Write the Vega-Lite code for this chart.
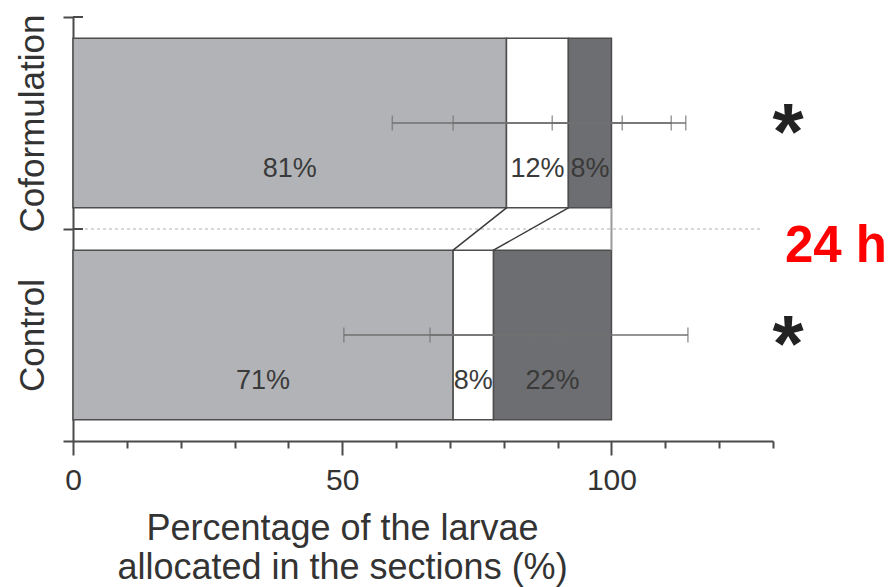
{
  "$schema": "https://vega.github.io/schema/vega-lite/v6.json",
  "width": 700,
  "height": 424,
  "autosize": {"type": "none"},
  "padding": {"left": 73, "top": 17, "right": 119, "bottom": 146},
  "background": "white",
  "config": {"view": {"stroke": null}, "font": "Liberation Sans", "scale": {"bandPaddingInner": 0, "bandPaddingOuter": 0}},
  "datasets": {
    "segments": [
      {"group": "Coformulation", "section": "Section 1", "start": 0, "end": 80.5, "mid": 40.25, "label": "81%", "lo": 59.3, "hi": 102.0},
      {"group": "Coformulation", "section": "Section 2", "start": 80.5, "end": 92, "mid": 86.25, "label": "12%", "lo": 70.6, "hi": 113.8},
      {"group": "Coformulation", "section": "Section 3", "start": 92, "end": 100, "mid": 96, "label": "8%", "lo": 89.0, "hi": 111.1},
      {"group": "Control", "section": "Section 1", "start": 0, "end": 70.6, "mid": 35.3, "label": "71%", "lo": 50.3, "hi": 90.6},
      {"group": "Control", "section": "Section 2", "start": 70.6, "end": 78.1, "mid": 74.35, "label": "8%", "lo": 66.3, "hi": 89.9},
      {"group": "Control", "section": "Section 3", "start": 78.1, "end": 100, "mid": 89.05, "label": "22%", "lo": 85.4, "hi": 114.2}
    ],
    "significance": [
      {"group": "Coformulation", "x": 132.8, "mark": "*"},
      {"group": "Control", "x": 132.8, "mark": "*"}
    ],
    "links": [
      {"top": 80.5, "bottom": 70.6},
      {"top": 92, "bottom": 78.1}
    ],
    "bounds": [{"b": 0}, {"b": 1}],
    "annot": [{"text": "24 h", "x": 141.7, "y": 1.156}]
  },
  "layer": [
    {
      "data": {"name": "segments"},
      "mark": {"type": "bar", "stroke": "#4d4d4d", "strokeWidth": 1.5, "height": {"band": 0.8}},
      "encoding": {
        "x": {
          "field": "start", "type": "quantitative",
          "scale": {"domain": [0, 130], "nice": false},
          "axis": {
            "values": [0, 10, 20, 30, 40, 50, 60, 70, 80, 90, 100, 110, 120, 130],
            "labelExpr": "datum.value % 50 === 0 ? datum.label : ''",
            "tickSize": {"condition": {"test": "datum.value % 50 === 0", "value": 14}, "value": 7},
            "tickWidth": 2, "tickColor": "#4a4a4a",
            "domainColor": "#4a4a4a", "domainWidth": 2,
            "labelFontSize": 30, "labelColor": "#333333", "labelPadding": 10,
            "labelBaseline": "top", "labelFlush": false, "labelOverlap": false,
            "grid": false,
            "title": ["Percentage of the larvae", "allocated in the sections (%)"],
            "titleFontSize": 36, "titleFontWeight": "normal", "titleColor": "#333333",
            "titleX": 269, "titleY": 70, "titleBaseline": "top", "titleAlign": "center",
            "titleLineHeight": 39
          }
        },
        "x2": {"field": "end"},
        "y": {
          "field": "group", "type": "nominal",
          "scale": {"type": "band", "domain": ["Coformulation", "Control"]},
          "axis": {
            "title": null, "tickBand": "extent", "tickSize": 10, "tickWidth": 2,
            "tickColor": "#4a4a4a", "domainColor": "#4a4a4a", "domainWidth": 2,
            "labelAngle": -90, "labelAlign": "center", "labelBaseline": "alphabetic",
            "labelFontSize": 35, "labelColor": "#333333", "labelPadding": 20, "labelLimit": 0, "grid": false
          }
        },
        "color": {
          "field": "section", "type": "nominal",
          "scale": {"domain": ["Section 1", "Section 2", "Section 3"], "range": ["#b2b3b7", "#ffffff", "#6d6e71"]},
          "legend": null
        }
      }
    },
    {
      "data": {"values": [{}]},
      "mark": {"type": "rule", "color": "#cccccc", "strokeWidth": 1.5, "strokeDash": [3, 3]},
      "encoding": {
        "x": {"datum": 0, "type": "quantitative"},
        "x2": {"datum": 128},
        "y": {"datum": 1, "type": "quantitative", "scale": {"domain": [0, 2], "reverse": true, "nice": false, "zero": false}, "axis": null}
      }
    },
    {
      "data": {"name": "links"},
      "mark": {"type": "rule", "color": "#3a3a3a", "strokeWidth": 1.5},
      "encoding": {
        "x": {"field": "top", "type": "quantitative"},
        "x2": {"field": "bottom"},
        "y": {"datum": 0.9, "type": "quantitative", "scale": {"domain": [0, 2], "reverse": true, "nice": false, "zero": false}, "axis": null},
        "y2": {"datum": 1.1}
      }
    },
    {
      "data": {"values": [{}]},
      "mark": {"type": "rule", "color": "#9a9a9a", "strokeWidth": 2},
      "encoding": {
        "x": {"datum": 100, "type": "quantitative"},
        "y": {"datum": 0.9, "type": "quantitative", "scale": {"domain": [0, 2], "reverse": true, "nice": false, "zero": false}, "axis": null},
        "y2": {"datum": 1.1}
      }
    },
    {
      "data": {"name": "bounds"},
      "mark": {"type": "rule", "color": "#4a4a4a", "strokeWidth": 2},
      "encoding": {
        "x": {"datum": 0, "type": "quantitative"},
        "x2": {"datum": 1.86},
        "y": {"field": "b", "type": "quantitative", "scale": {"domain": [0, 2], "reverse": true, "nice": false, "zero": false}, "axis": null}
      }
    },
    {
      "data": {"name": "segments"},
      "mark": {"type": "rule", "color": "#707070", "strokeWidth": 1.5},
      "encoding": {
        "x": {"field": "lo", "type": "quantitative"},
        "x2": {"field": "hi"},
        "y": {"field": "group", "type": "nominal", "scale": {"type": "band", "domain": ["Coformulation", "Control"]}, "axis": null}
      }
    },
    {
      "data": {"name": "segments"},
      "mark": {"type": "tick", "color": "#707070", "thickness": 1.5, "size": 15},
      "encoding": {
        "x": {"field": "lo", "type": "quantitative"},
        "y": {"field": "group", "type": "nominal", "scale": {"type": "band", "domain": ["Coformulation", "Control"]}, "axis": null}
      }
    },
    {
      "data": {"name": "segments"},
      "mark": {"type": "tick", "color": "#707070", "thickness": 1.5, "size": 15},
      "encoding": {
        "x": {"field": "hi", "type": "quantitative"},
        "y": {"field": "group", "type": "nominal", "scale": {"type": "band", "domain": ["Coformulation", "Control"]}, "axis": null}
      }
    },
    {
      "data": {"name": "segments"},
      "mark": {"type": "text", "fontSize": 27, "dy": 54, "color": "#3a3a3a", "align": "center", "baseline": "alphabetic"},
      "encoding": {
        "x": {"field": "mid", "type": "quantitative"},
        "y": {"field": "group", "type": "nominal", "scale": {"type": "band", "domain": ["Coformulation", "Control"]}, "axis": null},
        "text": {"field": "label"}
      }
    },
    {
      "data": {"name": "significance"},
      "mark": {"type": "text", "fontSize": 80, "fontWeight": "bold", "dy": 12, "color": "#222222", "align": "center", "baseline": "middle"},
      "encoding": {
        "x": {"field": "x", "type": "quantitative"},
        "y": {"field": "group", "type": "nominal", "scale": {"type": "band", "domain": ["Coformulation", "Control"]}, "axis": null},
        "text": {"field": "mark"}
      }
    },
    {
      "data": {"name": "annot"},
      "mark": {"type": "text", "fontSize": 51, "fontWeight": "bold", "color": "#ff0000", "align": "center", "baseline": "alphabetic"},
      "encoding": {
        "x": {"field": "x", "type": "quantitative"},
        "y": {"field": "y", "type": "quantitative", "scale": {"domain": [0, 2], "reverse": true, "nice": false, "zero": false}, "axis": null},
        "text": {"field": "text"}
      }
    }
  ],
  "resolve": {"scale": {"y": "independent"}}
}
